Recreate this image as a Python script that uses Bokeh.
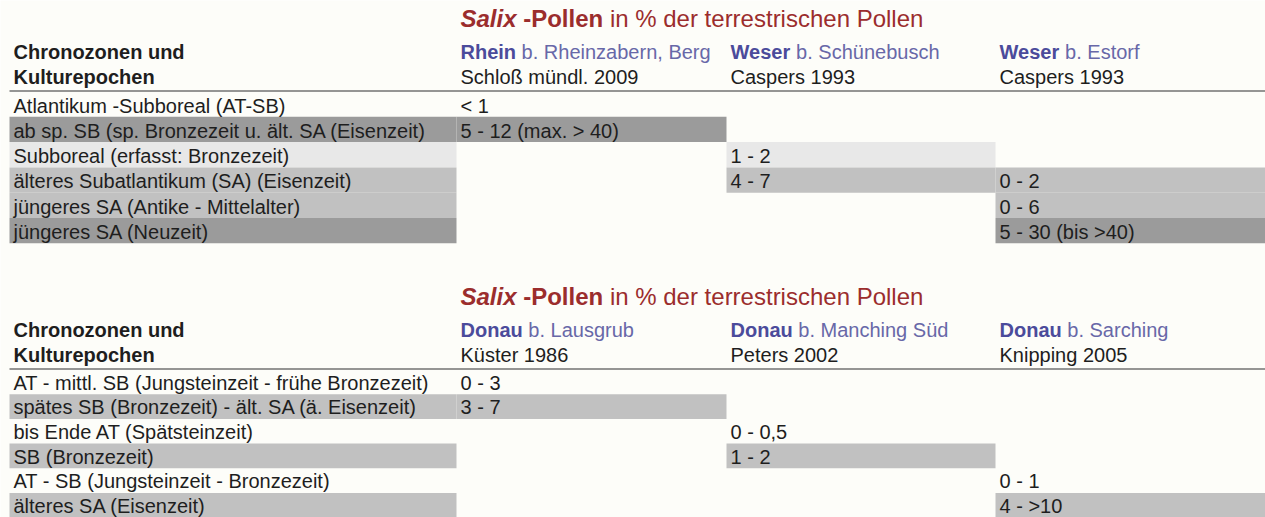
from bokeh.plotting import figure
from bokeh.models import Range1d
from bokeh.core.properties import value
from bokeh.embed import file_html
from bokeh.resources import INLINE

# ---------------- data ----------------
TITLE_ITALIC = "Salix"
TITLE_BOLD = "-Pollen"
TITLE_REST = "in % der terrestrischen Pollen"
HEAD_LEFT = ["Chronozonen und", "Kulturepochen"]

TOP_LABELS = [
    "Atlantikum -Subboreal (AT-SB)",
    "ab sp. SB (sp. Bronzezeit u. ält. SA (Eisenzeit)",
    "Subboreal (erfasst: Bronzezeit)",
    "älteres Subatlantikum (SA) (Eisenzeit)",
    "jüngeres SA (Antike - Mittelalter)",
    "jüngeres SA (Neuzeit)",
]
TOP_RIVERS = ["Rhein", "Weser", "Weser"]
TOP_SITES = ["b. Rheinzabern, Berg", "b. Schünebusch", "b. Estorf"]
TOP_SOURCES = ["Schloß mündl. 2009", "Caspers 1993", "Caspers 1993"]
TOP_COL1 = ["< 1", "5 - 12 (max. > 40)", "", "", "", ""]
TOP_COL2 = ["", "", "1 - 2", "4 - 7", "", ""]
TOP_COL3 = ["", "", "", "0 - 2", "0 - 6", "5 - 30 (bis >40)"]
TOP_SHADE = ["none", "dark", "light", "mid", "mid", "dark"]

BOT_LABELS = [
    "AT - mittl. SB (Jungsteinzeit - frühe Bronzezeit)",
    "spätes SB (Bronzezeit) - ält. SA (ä. Eisenzeit)",
    "bis Ende AT  (Spätsteinzeit)",
    "SB (Bronzezeit)",
    "AT - SB (Jungsteinzeit - Bronzezeit)",
    "älteres SA (Eisenzeit)",
]
BOT_RIVERS = ["Donau", "Donau", "Donau"]
BOT_SITES = ["b. Lausgrub", "b. Manching Süd", "b. Sarching"]
BOT_SOURCES = ["Küster 1986", "Peters 2002", "Knipping 2005"]
BOT_COL1 = ["0 - 3", "3 - 7", "", "", "", ""]
BOT_COL2 = ["", "", "0 - 0,5", "1 - 2", "", ""]
BOT_COL3 = ["", "", "", "", "0 - 1", "4 - >10"]
BOT_SHADE = ["none", "mid", "none", "mid", "none", "mid"]

# ---------------- layout / style ----------------
FONT = value("Liberation Sans")
BG = "#fdfdf9"
SHADE_COLORS = {"dark": "#9b9b9b", "mid": "#c1c1c1", "light": "#e8e8e8"}
TITLE_COLOR = "#9b2d2d"
RIVER_COLOR = "#4b4b9b"
SITE_COLOR = "#6868a8"
TEXT_COLOR = "#1e1e1e"
BODY_SIZE = 20
TITLE_SIZE = 24
COL_EDGES = [9, 456, 726, 995, 1265]
PAD = 4
# Arial/Liberation bold advance widths (per 1000 em)
BOLD_W = {"R": 722, "h": 611, "e": 556, "i": 278, "n": 611, "W": 944, "s": 556,
          "r": 389, "D": 722, "o": 611, "a": 556, "u": 611, "-": 333, "P": 667,
          "l": 278, " ": 278, "S": 667, "x": 556}
SPACE_W = 278


def bold_width(s, size):
    return sum(BOLD_W.get(c, 600) for c in s) * size / 1000.0


W, H = 1265, 517
p = figure(width=W, height=H, output_backend="svg", toolbar_location=None,
           x_range=Range1d(0, W), y_range=Range1d(H, 0),
           min_border=0, x_axis_location=None, y_axis_location=None,
           background_fill_color=BG, border_fill_color=BG, outline_line_color=None)
p.grid.visible = False


def txt(xs, ys, texts, size, color, style="normal"):
    p.text(x=xs, y=ys, text=texts, text_font=FONT, text_font_size=f"{size}px",
           text_font_style=style, text_color=color, text_baseline="alphabetic",
           text_align="left")


def draw_table(line_y, row_h, text_off, labels, rivers, sites, sources, cols, shades):
    # title
    x0 = COL_EDGES[1] + PAD
    ty = line_y - 73
    x_bold = x0 + bold_width(TITLE_ITALIC, TITLE_SIZE) + SPACE_W * TITLE_SIZE / 1000.0
    x_rest = x_bold + bold_width(TITLE_BOLD, TITLE_SIZE) + SPACE_W * TITLE_SIZE / 1000.0
    txt([x0], [ty], [TITLE_ITALIC], TITLE_SIZE, TITLE_COLOR, "bold italic")
    txt([x_bold], [ty], [TITLE_BOLD], TITLE_SIZE, TITLE_COLOR, "bold")
    txt([x_rest], [ty], [TITLE_REST], TITLE_SIZE, TITLE_COLOR)

    # header
    h1, h2 = line_y - 39, line_y - 14
    txt([COL_EDGES[0] + PAD] * 2, [h1, h2], HEAD_LEFT, BODY_SIZE, TEXT_COLOR, "bold")
    cx = [COL_EDGES[i + 1] + PAD for i in range(3)]
    txt(cx, [h1] * 3, rivers, BODY_SIZE, RIVER_COLOR, "bold")
    sx = [cx[i] + bold_width(rivers[i], BODY_SIZE) + SPACE_W * BODY_SIZE / 1000.0 for i in range(3)]
    txt(sx, [h1] * 3, sites, BODY_SIZE, SITE_COLOR)
    txt(cx, [h2] * 3, sources, BODY_SIZE, TEXT_COLOR)

    # shading
    left, right, top, bottom, color = [], [], [], [], []
    for r, sh in enumerate(shades):
        if sh == "none":
            continue
        t = line_y + 0.5 + r * row_h
        b = t + row_h
        cells = [True] + [cols[c][r] != "" for c in range(3)]
        for c, on in enumerate(cells):
            if on:
                left.append(COL_EDGES[c]); right.append(COL_EDGES[c + 1])
                top.append(t); bottom.append(b); color.append(SHADE_COLORS[sh])
    p.quad(left=left, right=right, top=top, bottom=bottom, fill_color=color,
           line_color=None)

    # rule under the header
    p.segment(x0=[COL_EDGES[0]], x1=[COL_EDGES[-1]], y0=[line_y], y1=[line_y],
              line_color="#727272", line_width=1.6)

    # body text
    ys = [line_y + 0.5 + r * row_h + text_off for r in range(len(labels))]
    txt([COL_EDGES[0] + PAD] * len(labels), ys, labels, BODY_SIZE, TEXT_COLOR)
    for c in range(3):
        xs, yy, tt = [], [], []
        for r, v in enumerate(cols[c]):
            if v:
                xs.append(cx[c]); yy.append(ys[r]); tt.append(v)
        txt(xs, yy, tt, BODY_SIZE, TEXT_COLOR)


draw_table(90.5, 25.3, 14, TOP_LABELS, TOP_RIVERS, TOP_SITES, TOP_SOURCES,
           [TOP_COL1, TOP_COL2, TOP_COL3], TOP_SHADE)
draw_table(368.5, 24.7, 13, BOT_LABELS, BOT_RIVERS, BOT_SITES, BOT_SOURCES,
           [BOT_COL1, BOT_COL2, BOT_COL3], BOT_SHADE)

open("out.html", "w").write(file_html(p, INLINE))
